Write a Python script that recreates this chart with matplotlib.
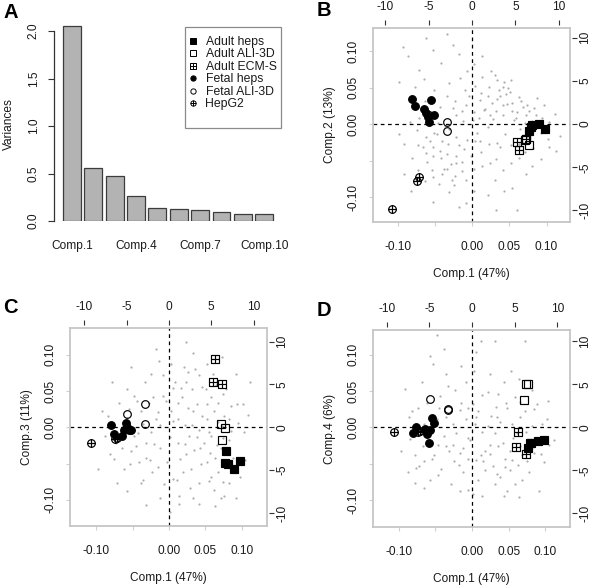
import numpy as np
import matplotlib
matplotlib.use("Agg")
import matplotlib.pyplot as plt
from matplotlib.path import Path
from matplotlib.lines import Line2D
from matplotlib.patches import Rectangle

plt.rcParams['font.family'] = ['Liberation Sans', 'DejaVu Sans']
plt.rcParams['font.size'] = 8.6

# ---------------- data ----------------
components = ['Comp.1', 'Comp.2', 'Comp.3', 'Comp.4', 'Comp.5',
              'Comp.6', 'Comp.7', 'Comp.8', 'Comp.9', 'Comp.10']
variances = [2.056, 0.555, 0.477, 0.266, 0.140, 0.123, 0.116, 0.098, 0.074, 0.074]
shown_components = ['Comp.1', 'Comp.4', 'Comp.7', 'Comp.10']
variance_ticks = [0.0, 0.5, 1.0, 1.5, 2.0]

group_names = ['Adult heps', 'Adult ALI-3D', 'Adult ECM-S',
               'Fetal heps', 'Fetal ALI-3D', 'HepG2']

adult_heps_pc1 = [0.077, 0.079, 0.081, 0.090, 0.098]
adult_heps_pc2 = [-0.010, -0.004, -0.001, 0.000, -0.007]
adult_heps_pc3 = [-0.049, -0.033, -0.050, -0.058, -0.046]
adult_heps_pc4 = [-0.028, -0.022, -0.021, -0.019, -0.017]

adult_ali_pc1 = [0.071, 0.073, 0.077]
adult_ali_pc2 = [-0.022, -0.020, -0.028]
adult_ali_pc3 = [0.004, -0.0175, -0.001]
adult_ali_pc4 = [0.037, 0.060, 0.060]

adult_ecm_pc1 = [0.063, 0.060, 0.073]
adult_ecm_pc2 = [-0.035, -0.024, -0.020]
adult_ecm_pc3 = [0.094, 0.0625, 0.060]
adult_ecm_pc4 = [-0.006, -0.0275, -0.036]

fetal_heps_pc1 = [-0.080, -0.076, -0.064, -0.055, -0.062, -0.059, -0.0515, -0.058]
fetal_heps_pc2 = [0.035, 0.025, 0.021, 0.033, 0.015, 0.010, 0.013, 0.003]
fetal_heps_pc3 = [0.003, -0.009, -0.012, -0.004, -0.004, 0.006, -0.003, 0.000]
fetal_heps_pc4 = [-0.008, 0.000, -0.002, 0.013, -0.009, -0.022, 0.006, -0.004]

fetal_ali_pc1 = [-0.058, -0.033, -0.033]
fetal_ali_pc2 = [0.012, 0.003, -0.009]
fetal_ali_pc3 = [0.019, 0.032, 0.0045]
fetal_ali_pc4 = [0.0385, 0.025, 0.024]

hepg2_pc1 = [-0.071, -0.074, -0.107]
hepg2_pc2 = [-0.073, -0.078, -0.116]
hepg2_pc3 = [-0.014, -0.016, -0.022]
hepg2_pc4 = [-0.005, -0.007, -0.007]

# gene loadings (gray dots), in hundredths of the sample-score scale
genes_b = [(-8.6, 9.3), (-6.2, 11.8), (-3.4, 12.3), (-5.3, 10.1), (-7.1, 7.4), (-9.8, 5.7),
           (-4.2, 8.3), (-1.8, 9.6), (-6.4, 6.2), (-3.1, 5.6), (-0.7, 7.3), (-8.2, 3.9),
           (-9.3, 10.6), (-5.1, 4.6), (-2.6, 10.8), (-7.7, 5.1),
           (0.4, 5.2), (1.3, 6.4), (2.2, 3.8), (3.6, 4.7), (-0.8, 2.6), (1.1, 3.3), (4.3, 5.8),
           (2.5, 7.2), (5.4, 2.9), (3.2, 1.8), (4.6, 4.1), (6.3, 3.7), (5.2, 6.1), (7.4, 2.6),
           (2.8, 0.7), (1.7, 2.1), (0.2, 1.6), (0.9, 0.8), (-2.3, 3.1), (-3.4, 3.8), (4.1, 1.2),
           (6.1, 1.7), (5.6, 0.6), (7.2, 1.2), (8.3, 2.2), (9.4, 0.8), (10.3, 0.3), (11.2, 1.4),
           (6.4, -0.7), (4.4, -1.3), (2.1, -0.4), (0.6, -1.2), (-1.2, 0.4), (-2.1, 1.3),
           (-4.3, 2.4), (-5.2, 1.2), (3.3, 3.4), (4.2, 2.6), (5.1, 4.4), (6.6, 3.1), (7.6, 1.8),
           (8.1, 0.4), (2.3, 5.1), (3.1, 6.7), (-0.9, 4.7), (0.3, 8.2), (1.4, 9.3), (-1.6, 6.3),
           (1.2, 4.3), (2.7, 2.9), (3.8, 3.9), (4.7, 2.7), (5.3, 1.8), (5.9, 0.9), (7.1, 0.2),
           (8.6, 1.2), (9.1, -0.3), (4.1, 5.1), (4.8, 4.9), (3.3, 6.1), (2.4, 1.2), (1.6, 1.9),
           (0.1, 0.6), (-0.4, 3.9), (-1.3, 1.8), (-2.6, 2.2), (6.8, 2.4), (8.7, 3.6), (9.6, 2.6),
           (-6.2, -1.7), (-5.3, -3.2), (-4.1, -2.3), (-3.2, -2.7), (-7.3, -2.8), (-6.1, -5.2),
           (-5.4, -6.3), (-4.2, -4.7), (-3.3, -6.2), (-2.2, -4.3), (-1.1, -3.4), (-4.4, -8.2),
           (-3.1, -9.3), (-2.3, -7.1), (-6.3, -7.8), (-7.2, -6.3), (-8.1, -4.6), (-5.2, -10.7),
           (-1.8, -11.3), (-0.8, -7.7), (0.3, -6.2), (1.2, -3.8), (2.3, -2.7), (3.2, -4.8),
           (0.4, -2.3), (-1.3, -5.2), (-8.2, -9.1), (-9.1, -2.7), (-9.8, -1.3), (-5.1, -1.2),
           (-4.3, -3.7), (-3.1, -0.7), (-2.2, -1.8), (-6.2, -3.9), (-4.1, -6.8), (-3.4, -4.1),
           (-3.6, -0.3), (-4.6, 0.2), (-4.7, -1.4), (-5.6, -2.3), (-5.3, -4.4), (-6.6, -3.1),
           (-2.8, -5.4), (-2.1, -5.3), (-1.7, -2.9), (-0.7, -2.2), (-1.4, -6.4), (-0.2, -4.3),
           (-3.8, -6.1), (-2.7, -7.6), (-5.2, -7.3), (-2.4, -8.3), (0.2, -9.2), (-7.1, 0.8),
           (-8.3, 0.3), (-6.3, 3.1), (-7.4, -0.8), (-0.8, -10.8), (-9.2, -6.8),
           (5.2, -2.8), (6.3, -4.7), (7.1, -3.8), (8.2, -3.3), (9.3, -4.8), (10.2, -2.1),
           (11.3, -3.7), (4.2, -6.3), (5.3, -8.8), (3.1, -7.7), (7.3, -6.8), (6.1, -11.8),
           (2.2, -9.7), (8.1, -5.7), (11.8, -1.6), (3.7, -3.2), (1.3, -5.8), (1.1, -2.3),
           (2.4, -5.3), (3.4, -2.6), (5.2, -5.3), (6.3, -2.7), (7.4, -1.8), (9.2, -1.2),
           (10.3, -3.2), (4.3, -9.1), (3.2, -11.7)]
genes_c = [(-9.7, -5.8), (-9.2, 2.3), (-8.1, -3.7), (-7.3, -2.2), (-6.8, 3.4), (-6.2, -5.7),
           (-5.7, 1.3), (-5.2, -3.3), (-4.8, 4.3), (-4.1, -4.8), (-3.8, 2.2), (-4.3, -0.8),
           (-3.2, -4.2), (-2.7, 3.3), (-3.3, 6.2), (-2.1, -2.3), (-1.8, 1.2), (-2.3, -6.2),
           (-0.8, 4.3), (-1.2, -2.8), (-0.7, -7.8), (0.3, 2.2), (0.2, -1.3), (-0.3, -4.8),
           (0.3, 8.7), (1.2, 3.3), (1.3, -2.2), (0.8, 6.2), (1.1, -7.3), (2.2, 0.3), (1.8, 4.2),
           (2.3, -3.7), (2.1, 8.3), (3.3, 2.2), (2.8, -1.2), (3.2, 5.3), (3.1, -5.7), (3.3, -9.7),
           (4.2, -0.3), (3.8, 3.2), (4.3, -2.8), (4.1, 7.2), (4.2, -7.7), (5.3, 1.2), (4.8, -2.2),
           (5.1, 5.3), (5.2, -4.8), (5.3, 8.7), (6.2, 2.2), (5.8, -1.2), (6.3, -4.2), (6.1, 7.3),
           (5.8, -6.8), (6.2, -8.7), (7.3, 0.2), (6.8, 3.3), (7.2, -2.8), (7.3, 9.7), (6.8, -6.2),
           (8.2, 1.2), (7.8, 5.3), (8.3, -1.8), (8.2, -7.7), (9.3, 3.2), (8.8, -4.2), (9.2, 7.3),
           (10.3, -0.7), (9.8, -6.8), (11.2, 6.3), (10.8, 1.7), (-7.8, 6.2), (-5.2, 8.3),
           (-1.8, 10.8), (-5.8, -8.8), (-3.2, -10.7), (2.3, 11.8), (9.2, -9.7), (-3.8, -7.7),
           (-0.8, 7.2), (0.2, -11.7), (3.3, 10.2), (-7.2, -7.7), (-8.8, -1.2), (1.3, 1.2),
           (2.2, -2.3), (-1.2, 0.3), (3.2, 0.3), (3.8, -1.3), (5.2, 3.2), (5.8, 4.2), (2.3, 6.2),
           (-2.2, 4.2), (-4.8, -1.2), (-3.2, -2.2), (8.2, -5.3), (7.2, -9.8), (6.3, -10.8),
           (10.2, 3.2), (-1.2, -9.8), (-5.8, 5.3),
           (0.6, 0.9), (1.5, -4.4), (2.6, 2.7), (3.4, -3.1), (4.6, 1.5), (5.5, -0.6), (6.7, 0.8),
           (7.4, -1.5), (5.7, -3.6), (4.4, -5.1), (2.9, -8.4), (1.9, -6.1), (1.4, -9.4),
           (-0.4, 3.6), (-1.5, 2.1), (-2.4, -0.6), (-3.6, 0.5), (-4.5, -2.6), (-5.4, -5.1),
           (-6.4, -2.9), (-2.6, -4.5), (-1.5, -5.5), (0.5, -7.1), (1.6, 5.4), (2.6, 7.6),
           (3.6, 8.1), (4.5, 5.6), (6.5, 5.9), (7.5, 4.6), (8.5, 2.9), (9.5, 0.6), (9.4, -5.6),
           (7.6, -9.4), (7.5, -7.6), (5.5, -7.4), (4.1, -10.5), (-3.5, -7.3), (-4.4, 3.6),
           (-2.5, 7.4), (-1.4, 9.1), (0.6, 5.4), (1.4, -10.6), (6.6, -2.4), (7.6, 1.6),
           (8.6, -0.5), (10.4, -4.5), (-7.5, -4.4), (-8.4, 1.6), (-5.5, 2.5), (-6.5, -0.4)]
genes_d = [(-9.7, -3.2), (-9.1, 5.3), (-8.8, -6.2), (-8.2, 2.3), (-7.8, -7.7), (-7.2, -5.3),
           (-6.8, 6.2), (-6.2, -1.7), (-5.8, -7.2), (-6.1, 3.3), (-5.2, -3.8), (-4.8, 1.2),
           (-5.3, 8.7), (-4.8, 12.7), (-4.2, -5.7), (-3.8, -1.2), (-4.3, 4.3), (-3.8, 10.8),
           (-3.2, -3.2), (-2.8, 2.2), (-3.3, 5.7), (-2.8, -7.8), (-2.2, -0.8), (-1.8, -5.2),
           (-2.3, 5.2), (-1.7, -8.8), (-0.8, 1.2), (-1.2, -2.8), (-0.8, 6.3), (-1.2, -6.2),
           (0.2, 3.2), (-0.3, -1.8), (0.3, 7.8), (0.2, -9.2), (1.2, -3.8), (0.8, 2.3), (1.2, 11.8),
           (0.8, -7.2), (2.2, 0.2), (1.8, -3.2), (2.2, 4.8), (1.8, -5.8), (3.2, -0.8), (2.8, -5.3),
           (3.3, 2.8), (3.2, -7.8), (4.2, -2.2), (3.8, 0.8), (4.3, 6.2), (3.8, -6.8), (5.2, -3.2),
           (4.8, 2.7), (5.2, -5.8), (4.8, -8.8), (5.3, 7.8), (6.2, -0.8), (5.8, 4.2), (6.3, -5.2),
           (5.8, -7.8), (7.2, 2.2), (6.8, -3.8), (7.2, 11.8), (6.8, -7.2), (8.2, 0.2), (7.8, -2.8),
           (8.2, 5.2), (7.8, -6.2), (9.2, -1.8), (8.8, 3.2), (9.2, -8.8), (10.2, 1.2), (9.8, -4.8),
           (11.2, -1.8), (3.2, 11.8), (-5.8, 9.8), (-7.8, -3.8), (-2.6, -2.4), (-0.6, -1.4),
           (1.4, -0.6), (2.5, -2.4), (-1.6, 2.4), (0.4, 0.5), (3.4, 1.4), (4.5, -4.4), (5.4, 0.5),
           (-4.6, -6.6), (-6.6, 0.4), (-8.6, 1.4), (6.4, 6.6), (10.4, 3.6),
           (-7.6, -0.5), (-6.7, -2.6), (-7.4, 2.6), (-5.6, 0.4), (-6.5, -4.6), (-4.6, -2.4),
           (-4.5, 2.6), (-3.6, -2.5), (-3.5, 1.4), (-2.6, 0.4), (-2.5, -4.6), (-1.6, -3.5),
           (-1.5, 3.4), (-0.6, -4.4), (-0.5, 2.6), (0.5, -4.5), (0.6, 1.4), (1.5, -4.6), (1.4, 4.5),
           (2.5, -3.6), (2.6, 1.6), (3.5, -2.6), (3.4, -6.4), (4.5, -5.4), (4.6, 3.4), (5.6, -1.4),
           (5.5, -4.5), (6.6, -2.5), (6.5, 1.4), (7.4, -0.6), (7.5, -4.6), (8.5, -3.5), (8.4, 2.5),
           (9.5, 0.4), (9.4, -3.6), (10.5, -2.4), (2.4, 7.4), (0.5, 10.4), (-1.5, 8.4),
           (-3.6, 7.4), (-5.5, -4.4), (-7.6, -5.6), (-6.5, -8.4), (4.4, -9.5), (6.4, -9.6),
           (1.4, -9.4), (-0.6, -8.6), (3.5, 4.6), (6.6, 3.5), (-8.5, -1.6)]

score_ticks = [-0.10, -0.05, 0.00, 0.05, 0.10]
score_ticklabels = ['-0.10', '', '0.00', '0.05', '0.10']
loading_ticks = [-10, -5, 0, 5, 10]

# ---------------- markers ----------------
M, L, C = Path.MOVETO, Path.LINETO, Path.CLOSEPOLY
square_plus = Path([(-1, -1), (1, -1), (1, 1), (-1, 1), (-1, -1), (0, -1), (0, 1), (-1, 0), (1, 0)],
                   [M, L, L, L, C, M, L, M, L])
circle_plus = Path.make_compound_path(
    Path.unit_circle(), Path([(0, -1), (0, 1), (-1, 0), (1, 0)], [M, L, M, L]))

groups = [
    # name, pcs, marker, facecolor
    ('Adult heps', [adult_heps_pc1, adult_heps_pc2, adult_heps_pc3, adult_heps_pc4], 's', 'black'),
    ('Adult ALI-3D', [adult_ali_pc1, adult_ali_pc2, adult_ali_pc3, adult_ali_pc4], 's', 'none'),
    ('Adult ECM-S', [adult_ecm_pc1, adult_ecm_pc2, adult_ecm_pc3, adult_ecm_pc4], square_plus, 'none'),
    ('Fetal heps', [fetal_heps_pc1, fetal_heps_pc2, fetal_heps_pc3, fetal_heps_pc4], 'o', 'black'),
    ('Fetal ALI-3D', [fetal_ali_pc1, fetal_ali_pc2, fetal_ali_pc3, fetal_ali_pc4], 'o', 'none'),
    ('HepG2', [hepg2_pc1, hepg2_pc2, hepg2_pc3, hepg2_pc4], circle_plus, 'none'),
]
draw_order = [2, 1, 5, 4, 0, 3]

W, H = 600, 585
fig = plt.figure(figsize=(W / 100, H / 100), dpi=100)


def px_axes(l, t, r, b):
    return fig.add_axes([l / W, 1 - b / H, (r - l) / W, (b - t) / H])


TXT = '#1a1a1a'

# ---------------- panel A ----------------
axA = px_axes(54, 20, 282, 221)
xpos = 0.7 + 1.2 * np.arange(len(components))
axA.bar(xpos, variances, width=1.0, color='#b3b3b3', edgecolor='#3c3c3c', linewidth=0.9)
axA.set_xlim(-0.306, 12.5)
axA.set_ylim(0, 201 / 95)
for s in ['top', 'right', 'bottom']:
    axA.spines[s].set_visible(False)
axA.spines['left'].set_bounds(0, 2)
axA.spines['left'].set_color('#333333')
axA.spines['left'].set_linewidth(0.9)
axA.set_yticks(variance_ticks)
axA.set_yticklabels([f'{v:.1f}' for v in variance_ticks], rotation=90, va='center')
axA.tick_params(axis='y', length=4.3, width=0.8, color='#333333', pad=6, labelcolor=TXT)
sel = [components.index(c) for c in shown_components]
axA.set_xticks(xpos[sel])
axA.set_xticklabels(shown_components)
axA.tick_params(axis='x', length=0, pad=14, labelcolor=TXT)
axA.set_ylabel('Variances', color=TXT)
axA.yaxis.label.set_va('center')
axA.yaxis.set_label_coords(-45 / 228, 0.48)

handles = []
for name, pcs, mk, fc in groups:
    handles.append(Line2D([], [], ls='none', marker=mk, ms=3.8, mfc=fc, mec='black', mew=0.7))
leg = axA.legend(handles, group_names, loc='upper left', bbox_to_anchor=(189 / W, 1 - 36 / H),
                 bbox_transform=fig.transFigure, frameon=False, borderpad=0, borderaxespad=0,
                 handlelength=0.6, handletextpad=0.75, labelspacing=0.04, fontsize=8.8)
for t in leg.get_texts():
    t.set_color(TXT)
fig.add_artist(Rectangle((185 / W, 1 - 127.5 / H), 96 / W, 100.5 / H, transform=fig.transFigure,
                         facecolor='none', edgecolor='#8a8a8a', linewidth=0.9))


# ---------------- biplots ----------------
def biplot(box, xlim, ylim, comp, ylabel, genes):
    l, t, r, b = box
    wpx, hpx = r - l, b - t
    ax = px_axes(l, t, r, b)
    ax.set_xlim(xlim)
    ax.set_ylim(ylim)
    gx = np.array([g[0] for g in genes]) / 100
    gy = np.array([g[1] for g in genes]) / 100
    ax.plot(gx, gy, ls='none', marker='o', ms=1.6, mfc='#adadad', mec='none', zorder=1)
    ax.axhline(0, color='black', lw=0.9, ls=(0, (3.0, 2.8)), zorder=2)
    ax.axvline(0, color='black', lw=0.9, ls=(0, (3.0, 2.8)), zorder=2)
    for gi in draw_order:
        name, pcs, mk, fc = groups[gi]
        ax.plot(pcs[0], pcs[comp], ls='none', marker=mk, ms=5.5, mfc=fc, mec='black',
                mew=0.85, zorder=3)
    for s in ax.spines.values():
        s.set_color('#c6c6c6')
        s.set_linewidth(1.3)
    ax.set_xticks(score_ticks)
    ax.set_xticklabels(score_ticklabels)
    ax.set_yticks(score_ticks)
    ax.set_yticklabels(score_ticklabels, rotation=90, va='center')
    ax.tick_params(axis='x', length=3, width=0.8, color='#d0d0d0', pad=11, labelcolor=TXT)
    ax.tick_params(axis='y', length=3, width=0.8, color='#d0d0d0', pad=7, labelcolor=TXT)
    ax.set_xlabel('Comp.1 (47%)', color=TXT)
    ax.xaxis.label.set_va('center')
    ax.xaxis.set_label_coords(0.5, -52 / hpx)
    ax.set_ylabel(ylabel, color=TXT)
    ax.yaxis.label.set_va('center')
    ax.yaxis.set_label_coords(-43 / wpx, 0.5)

    secx = ax.secondary_xaxis(1 + 3 / hpx, functions=(lambda v: v * 86.0, lambda v: v / 86.0))
    secx.set_xticks(loading_ticks)
    secx.set_xticklabels([str(v) for v in loading_ticks])
    secx.tick_params(length=3.6, width=0.8, color='#333333', pad=5.0, labelcolor=TXT)
    secy = ax.secondary_yaxis(1 + 2 / wpx, functions=(lambda v: v * 84.6, lambda v: v / 84.6))
    secy.set_yticks(loading_ticks)
    secy.set_yticklabels([str(v) for v in loading_ticks], rotation=90, va='center')
    secy.tick_params(length=3.6, width=0.8, color='#333333', pad=1.5, labelcolor=TXT)
    for sa in (secx, secy):
        for s in sa.spines.values():
            s.set_visible(False)
    return ax


biplot((373, 28, 570, 222), (-0.133, 0.1315), (-0.134, 0.1315), 1, 'Comp.2 (13%)', genes_b)
biplot((70, 328, 267, 526), (-0.136, 0.1348), (-0.136, 0.137), 2, 'Comp.3 (11%)', genes_c)
biplot((373, 330, 570, 527), (-0.1351, 0.1337), (-0.137, 0.1338), 3, 'Comp.4 (6%)', genes_d)

# panel letters
for letter, x, y in [('A', 3, 3), ('B', 317, 1), ('C', 3, 298), ('D', 317, 301)]:
    fig.text(x / W, 1 - y / H, letter, fontsize=14.5, fontweight='bold', va='top', ha='left',
             color='black')

fig.savefig('out.png', dpi=100)
